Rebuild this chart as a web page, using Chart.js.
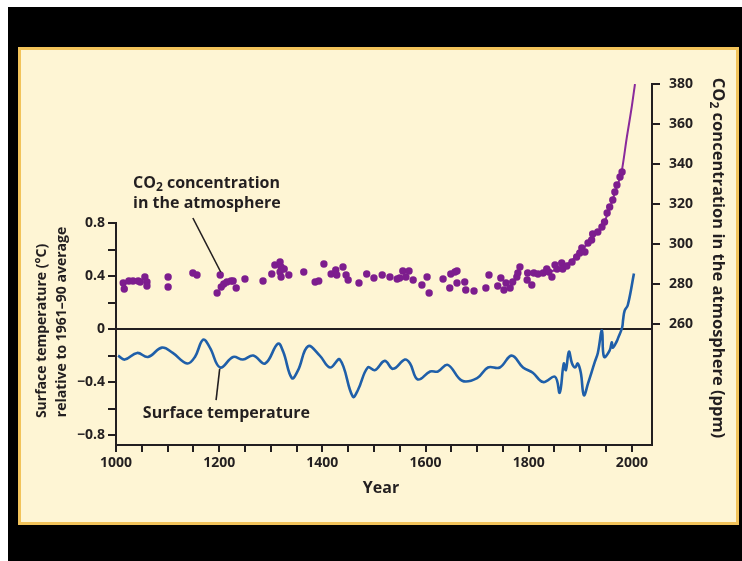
<!DOCTYPE html>
<html>
<head>
<meta charset="utf-8">
<script src="https://cdn.jsdelivr.net/npm/chart.js@4.4.1/dist/chart.umd.min.js"></script>
<style>
  html, body { margin: 0; padding: 0; background: #fff; }
  #frame { position: absolute; left: 8px; top: 7px; width: 734px; height: 554px; background: #000; }
  #panel { position: absolute; left: 18px; top: 47px; width: 715px; height: 472px;
           background: #fef5d4; border: 3px solid #f2c35a; }
  #wrap { position: absolute; left: 0; top: 0; width: 742px; height: 561px; }
</style>
</head>
<body>
<div id="frame"></div>
<div id="panel"></div>
<div id="wrap"><canvas id="c" width="742" height="561"></canvas></div>
<script>
// Atmospheric CO2 (ice-core samples, ppm)
const co2Years = [1014, 1016, 1025, 1033, 1043, 1047, 1056, 1060, 1060, 1101, 1101, 1149, 1157,
  1196, 1202, 1204, 1209, 1215, 1223, 1227, 1233, 1250, 1285, 1302, 1308, 1318, 1320, 1318, 1320,
  1326, 1335, 1364, 1386, 1393, 1403, 1417, 1426, 1428, 1440, 1446, 1450, 1471, 1486, 1500, 1516,
  1531, 1545, 1550, 1556, 1562, 1568, 1576, 1593, 1603, 1607, 1634, 1647, 1649, 1657, 1661, 1661,
  1676, 1678, 1694, 1717, 1723, 1740, 1746, 1752, 1756, 1764, 1769, 1777, 1783, 1779, 1797, 1798,
  1806, 1810, 1818, 1828, 1835, 1839, 1845, 1851, 1855, 1864, 1866, 1874, 1884, 1893, 1899, 1903,
  1909, 1915, 1922, 1924, 1934, 1942, 1947, 1952, 1957, 1963, 1967, 1971, 1977, 1981];
const co2Ppm = [280.5, 277.5, 281.5, 281.5, 281.5, 281, 283.5, 281, 279, 283.5, 278.5, 285.5, 284.5,
  275.5, 284.5, 278.5, 280, 281, 281.5, 281.5, 278, 282.5, 281.5, 285, 289.5, 291, 288.5, 286, 283.5,
  287.5, 284.5, 286, 281, 281.5, 290, 285, 287, 284.5, 288.5, 284.5, 282, 280.5, 285, 283, 284.5,
  283.5, 282.5, 283, 286.5, 283.5, 286.5, 282, 279.5, 283.5, 275.5, 282.5, 278, 285, 286, 280.5, 286.5,
  281, 277, 276.5, 278, 284.5, 279, 283, 277, 280.5, 278, 281, 283.5, 288.5, 285.5, 282, 285.5,
  279.5, 285.5, 285, 285.5, 287.5, 286, 283.5, 289.5, 287.5, 290.5, 287.5, 289, 291, 293.5, 295.5, 298,
  296, 300.5, 302, 305, 306, 308.5, 311, 315.5, 318.5, 322, 326, 329.5, 333.5, 336];

// Smoothed CO2 trend, ending with the instrumental record
const co2TrendYears = [1830, 1860, 1880, 1900, 1920, 1940, 1950, 1960, 1970, 1980, 1990, 2000, 2006];
const co2TrendPpm   = [285, 288, 291, 296, 302, 308, 313, 320, 328, 336, 353, 369, 380];

// Northern-hemisphere surface temperature anomaly (°C, relative to 1961–90)
const tempYears = [1004, 1017, 1041, 1062, 1089, 1110, 1138, 1153, 1169, 1182, 1202, 1227, 1246,
  1266, 1289, 1314, 1324, 1341, 1353, 1372, 1395, 1415, 1434, 1459, 1469, 1488, 1502, 1521, 1537,
  1560, 1570, 1585, 1609, 1624, 1643, 1671, 1700, 1721, 1744, 1767, 1789, 1808, 1828, 1851, 1860,
  1868, 1872, 1878, 1884, 1890, 1895, 1901, 1907, 1915, 1928, 1934, 1942, 1946, 1957, 1961, 1963,
  1971, 1973, 1981, 1983, 1986, 1992, 2004];
const tempAnomaly = [-0.20, -0.23, -0.18, -0.21, -0.14, -0.18, -0.26, -0.21, -0.08, -0.14, -0.29, -0.21, -0.23,
  -0.20, -0.26, -0.11, -0.17, -0.37, -0.31, -0.13, -0.20, -0.29, -0.23, -0.51, -0.46, -0.29, -0.31, -0.24, -0.30,
  -0.23, -0.26, -0.38, -0.32, -0.32, -0.27, -0.39, -0.37, -0.29, -0.29, -0.20, -0.29, -0.33, -0.40, -0.36, -0.48,
  -0.26, -0.31, -0.17, -0.26, -0.29, -0.26, -0.33, -0.50, -0.41, -0.25, -0.18, -0.01, -0.21, -0.16, -0.10, -0.14,
  -0.09, -0.07, 0.01, 0.07, 0.14, 0.18, 0.42];

// Axis ticks
const yearTicks = [1000, 1050, 1100, 1150, 1200, 1250, 1300, 1350, 1400, 1450, 1500,
  1550, 1600, 1650, 1700, 1750, 1800, 1850, 1900, 1950, 2000];
const tempTicks = [-0.8, -0.6, -0.4, -0.2, 0, 0.2, 0.4, 0.6, 0.8];
const co2Ticks = [260, 280, 300, 320, 340, 360, 380];

const FONT = '"Open Sans", Roboto, "DejaVu Sans", sans-serif';
const INK = '#231f20';
const PURPLE = '#7d1d8e';
const BLUE = '#1f5fa9';

function xy(xs, ys) { return xs.map((x, i) => ({ x: x, y: ys[i] })); }

// Draws a run of text pieces; pieces flagged true are set as subscripts
function drawRich(ctx, pieces, x, y, size, align) {
  const big = 'bold ' + size + 'px ' + FONT;
  const small = 'bold ' + Math.round(size * 0.72) + 'px ' + FONT;
  let total = 0;
  pieces.forEach(p => { ctx.font = p[1] ? small : big; total += ctx.measureText(p[0]).width; });
  let cx = align === 'center' ? x - total / 2 : x;
  ctx.textAlign = 'left';
  ctx.textBaseline = 'middle';
  pieces.forEach(p => {
    ctx.font = p[1] ? small : big;
    ctx.fillText(p[0], cx, p[1] ? y + size * 0.3 : y);
    cx += ctx.measureText(p[0]).width;
  });
}

const decorations = {
  id: 'decorations',
  afterDraw(chart) {
    const ctx = chart.ctx;
    const xs = chart.scales.x, yl = chart.scales.yL, yr = chart.scales.yR;
    const area = chart.chartArea;
    ctx.save();
    ctx.strokeStyle = INK;
    ctx.fillStyle = INK;

    // left axis line, only over the labelled range
    ctx.lineWidth = 2;
    ctx.beginPath();
    ctx.moveTo(area.left, yl.getPixelForValue(0.8) - 1);
    ctx.lineTo(area.left, area.bottom);
    ctx.stroke();

    // callout: CO2
    drawRich(ctx, [['CO', false], ['2', true], [' concentration', false]],
      xs.getPixelForValue(1033), yr.getPixelForValue(330.5), 16, 'left');
    drawRich(ctx, [['in the atmosphere', false]],
      xs.getPixelForValue(1033), yr.getPixelForValue(320.5), 16, 'left');
    ctx.lineWidth = 1.6;
    ctx.beginPath();
    ctx.moveTo(xs.getPixelForValue(1149), yr.getPixelForValue(313));
    ctx.lineTo(xs.getPixelForValue(1203), yr.getPixelForValue(286));
    ctx.stroke();

    // callout: temperature
    drawRich(ctx, [['Surface temperature', false]],
      xs.getPixelForValue(1052), yl.getPixelForValue(-0.634), 16, 'left');
    ctx.beginPath();
    ctx.moveTo(xs.getPixelForValue(1194), yl.getPixelForValue(-0.536));
    ctx.lineTo(xs.getPixelForValue(1201), yl.getPixelForValue(-0.30));
    ctx.stroke();

    // x-axis title
    drawRich(ctx, [['Year', false]], 381, 488, 16, 'center');

    // left axis title (two lines)
    ctx.save();
    ctx.translate(42, 331);
    ctx.rotate(-Math.PI / 2);
    drawRich(ctx, [['Surface temperature (°C)', false]], 0, 0, 14, 'center');
    ctx.restore();
    ctx.save();
    ctx.translate(62, 322);
    ctx.rotate(-Math.PI / 2);
    drawRich(ctx, [['relative to 1961–90 average', false]], 0, 0, 14, 'center');
    ctx.restore();

    // right axis title
    ctx.save();
    ctx.translate(718, 258);
    ctx.rotate(Math.PI / 2);
    drawRich(ctx, [['CO', false], ['2', true], [' concentration in the atmosphere (ppm)', false]], 0, 0, 16.5, 'center');
    ctx.restore();

    ctx.restore();
  }
};

const tickFont = { family: FONT, size: 14, weight: 'bold' };

new Chart(document.getElementById('c'), {
  data: {
    datasets: [
      {
        type: 'scatter',
        label: 'CO2 concentration',
        data: xy(co2Years, co2Ppm),
        yAxisID: 'yR',
        pointRadius: 3.7,
        pointBackgroundColor: PURPLE,
        pointBorderWidth: 0,
        order: 0
      },
      {
        type: 'line',
        label: 'CO2 trend',
        data: xy(co2TrendYears, co2TrendPpm),
        yAxisID: 'yR',
        borderColor: '#8a2a9b',
        borderWidth: 2,
        pointRadius: 0,
        cubicInterpolationMode: 'monotone',
        fill: false,
        order: 1
      },
      {
        type: 'line',
        label: 'Surface temperature',
        data: xy(tempYears, tempAnomaly),
        yAxisID: 'yL',
        borderColor: BLUE,
        borderWidth: 2.6,
        pointRadius: 0,
        tension: 0.4,
        fill: false,
        order: 2
      }
    ]
  },
  options: {
    responsive: false,
    animation: false,
    events: [],
    layout: { padding: { top: 84, left: 0, right: 0, bottom: 0 } },
    plugins: { legend: { display: false }, tooltip: { enabled: false } },
    scales: {
      x: {
        type: 'linear',
        position: 'bottom',
        min: 1000,
        max: 2039,
        afterFit(s) { s.height = 116; },
        afterBuildTicks(s) { s.ticks = yearTicks.map(v => ({ value: v })); },
        border: { display: true, color: INK, width: 2 },
        grid: { drawOnChartArea: false, drawTicks: true, tickLength: 7, color: INK, lineWidth: 2 },
        ticks: {
          autoSkip: false, maxRotation: 0, padding: 3, color: INK, font: tickFont,
          callback: v => (v % 200 === 0 ? String(v) : '')
        }
      },
      yL: {
        type: 'linear',
        position: 'left',
        min: -0.875,
        max: 1.85,
        afterFit(s) { s.width = 116; },
        afterBuildTicks(s) { s.ticks = tempTicks.map(v => ({ value: v })); },
        border: { display: false },
        grid: {
          drawOnChartArea: true, drawTicks: true, tickLength: 8, lineWidth: 2,
          color: c => (c.tick && Math.abs(c.tick.value) < 1e-9 ? INK : 'rgba(0,0,0,0)'),
          tickColor: INK
        },
        ticks: {
          padding: 3, color: INK, font: tickFont,
          callback: v => {
            const k = Math.round(v * 10);
            if (k % 4 !== 0) return '';
            if (k === 0) return '0';
            return (k < 0 ? '\u2212' : '') + Math.abs(v).toFixed(1);
          }
        }
      },
      yR: {
        type: 'linear',
        position: 'right',
        min: 199.5,
        max: 380,
        afterFit(s) { s.width = 90; },
        afterBuildTicks(s) { s.ticks = co2Ticks.map(v => ({ value: v })); },
        border: { display: true, color: INK, width: 2 },
        grid: { drawOnChartArea: false, drawTicks: true, tickLength: 8, color: INK, lineWidth: 2 },
        ticks: { padding: 9, color: INK, font: tickFont, callback: v => String(v) }
      }
    }
  },
  plugins: [decorations]
});
</script>
</body>
</html>
